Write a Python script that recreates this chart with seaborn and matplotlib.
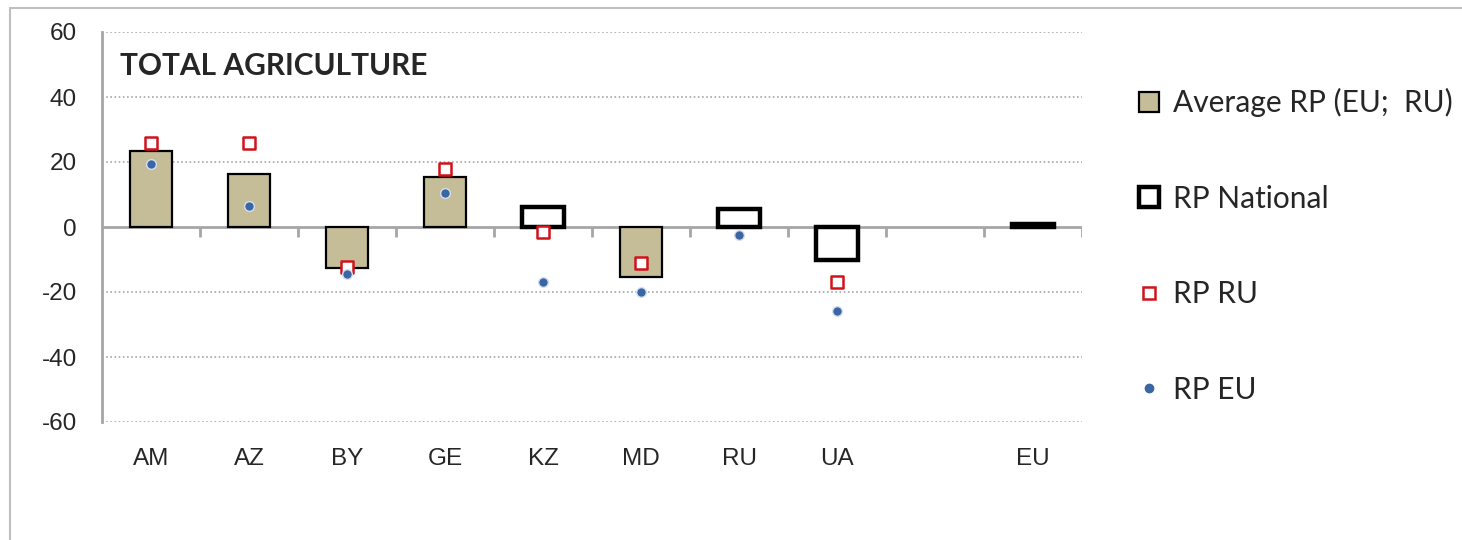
import numpy as np
import pandas as pd
import matplotlib
matplotlib.use("Agg")
import matplotlib.pyplot as plt
from matplotlib.lines import Line2D
from matplotlib.patches import Rectangle
import seaborn as sns

# values
countries = ["AM", "AZ", "BY", "GE", "KZ", "MD", "RU", "UA", " ", "EU"]
avg_rp = [23.4, 16.3, -12.6, 15.4, np.nan, -15.3, np.nan, np.nan, np.nan, np.nan]
rp_national = [np.nan, np.nan, np.nan, np.nan, 6.3, np.nan, 5.5, -10.2, np.nan, 0.8]
rp_ru = [25.9, 25.9, -12.2, 17.8, -1.6, -11.2, np.nan, -16.8, np.nan, np.nan]
rp_eu = [19.4, 6.5, -14.5, 10.6, -17.0, -20.1, -2.5, -25.8, np.nan, np.nan]
yticks = [-60, -40, -20, 0, 20, 40, 60]

df = pd.DataFrame({"country": countries, "avg": avg_rp, "nat": rp_national,
                   "ru": rp_ru, "eu": rp_eu})

tan = "#C4BD97"
red = "#D0131A"
blue = "#3C66A3"
grey = "#A6A6A6"

sns.set_style("white")
plt.rcParams["font.family"] = ["Liberation Sans", "DejaVu Sans"]
plt.rcParams["axes.unicode_minus"] = False

fig = plt.figure(figsize=(14.62, 5.40), dpi=100)
ax = fig.add_axes([102 / 1462, 1 - 422 / 540, 980 / 1462, 390 / 540])

# outer chart frame
fig.patches.append(Rectangle((10 / 1462, -0.1), 1.2, 1.1 - 8 / 540, transform=fig.transFigure,
                             fill=False, edgecolor="#BFBFBF", linewidth=1.5))

sns.barplot(data=df, x="country", y="avg", order=countries, color=tan, saturation=1,
            width=0.42, edgecolor="black", linewidth=1.6, ax=ax, zorder=2)
sns.barplot(data=df, x="country", y="nat", order=countries, color="white", saturation=1,
            width=0.42, edgecolor="black", linewidth=3.2, ax=ax, zorder=2)
sns.stripplot(data=df, x="country", y="ru", order=countries, jitter=False, marker="s",
              size=8, color="white", edgecolor=red, linewidth=1.8, ax=ax, zorder=4)
sns.stripplot(data=df, x="country", y="eu", order=countries, jitter=False, marker="o",
              size=7, color=blue, edgecolor="#D5E0EE", linewidth=1.0, ax=ax, zorder=5)

ax.set_xlim(-0.5, len(countries) - 0.5)
ax.set_ylim(-60, 60)
ax.set_yticks(yticks)
ax.set_xlabel("")
ax.set_ylabel("")

for y in yticks:
    if y != 0:
        ax.axhline(y, color=grey, linestyle=(0, (1, 1.5)), linewidth=1.2, zorder=0)
ax.axhline(0, color=grey, linewidth=2, zorder=1)
# category separator ticks hanging under the zero line
ax.vlines(np.arange(len(countries)) + 0.5, -3.2, 0, color=grey, linewidth=2, zorder=1)

for s in ["top", "right", "bottom"]:
    ax.spines[s].set_visible(False)
ax.spines["left"].set_color(grey)
ax.spines["left"].set_linewidth(2)
ax.tick_params(axis="y", direction="out", length=6, width=2, color=grey,
               labelsize=17.5, pad=12)
ax.tick_params(axis="x", length=0, labelsize=17.5, pad=19)

ax.text(0.018, 0.913, "TOTAL AGRICULTURE", transform=ax.transAxes, fontsize=21.5,
        fontweight="bold", family=["Lato", "DejaVu Sans"], va="center", ha="left")

handles = [
    Line2D([], [], linestyle="none", marker="s", markersize=15, markerfacecolor=tan,
           markeredgecolor="black", markeredgewidth=1.6),
    Line2D([], [], linestyle="none", marker="s", markersize=15, markerfacecolor="white",
           markeredgecolor="black", markeredgewidth=3.2),
    Line2D([], [], linestyle="none", marker="s", markersize=8, markerfacecolor="white",
           markeredgecolor=red, markeredgewidth=1.8),
    Line2D([], [], linestyle="none", marker="o", markersize=6, markerfacecolor=blue,
           markeredgecolor=blue),
]
labels = ["Average RP (EU;  RU)", "RP National", "RP RU", "RP EU"]
fig.legend(handles, labels, loc="upper left", bbox_to_anchor=(1134 / 1462, 1 - 88 / 540),
           frameon=False, prop={"family": ["Lato", "DejaVu Sans"], "size": 21.5},
           handlelength=1.0, handletextpad=0.3, labelspacing=2.26, borderpad=0,
           borderaxespad=0)

fig.savefig("out.png", dpi=100)
